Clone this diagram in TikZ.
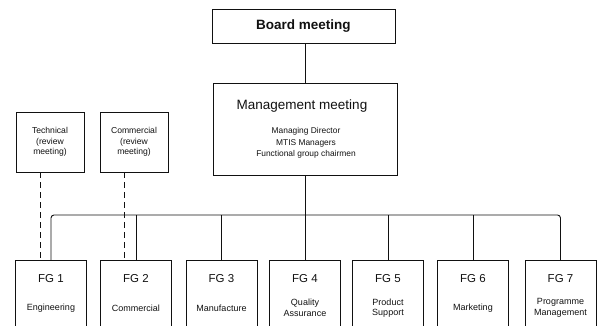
\documentclass[tikz,border=0pt]{standalone}
\usepackage{fontspec}
\setmainfont{Liberation Sans}
\usetikzlibrary{calc}
\definecolor{OrgInk}{HTML}{111111}
\tikzset{
  meetbox/.style={draw=OrgInk, line width=0.9pt, align=center, text=OrgInk, inner sep=0pt},
  reviewbox/.style={meetbox, minimum width=68pt, minimum height=60pt,
                    font=\fontsize{8.6}{10.5}\selectfont},
  groupbox/.style={draw=OrgInk, line width=0.9pt, minimum width=71pt,
                   minimum height=74pt, inner sep=0pt, anchor=north},
  grouptag/.style={font=\fontsize{11.5}{13}\selectfont, text=OrgInk},
  grouptext/.style={font=\fontsize{9}{10.5}\selectfont, align=center, text=OrgInk},
  link/.style={draw=OrgInk, line width=0.9pt},
  reviewlink/.style={link, dash pattern=on 6pt off 4pt},
}

\begin{document}
\begin{tikzpicture}[x=1pt, y=-1pt]
  \useasboundingbox (0,0) rectangle (603,326);
  \clip (0,0) rectangle (603,326);

  % Board and management meetings
  \node[meetbox, minimum width=183pt, minimum height=34pt,
        font=\bfseries\fontsize{13.5}{15}\selectfont] (board) at (303.5,26) {Board meeting};
  \node[meetbox, minimum width=184pt, minimum height=92pt] (mgmt) at (305,129) {};
  \node[font=\fontsize{13.5}{16}\selectfont, text=OrgInk] (mgmttitle) at (302,106) {Management meeting};
  \node[font=\fontsize{8.4}{11.5}\selectfont, align=center, text=OrgInk] (mgmtlist) at (306,143)
        {Managing Director\\MTIS Managers\\Functional group chairmen};

  % Review meetings
  \node[reviewbox] (techrev) at (50,142) {Technical\\(review\\meeting)};
  \node[reviewbox] (commrev) at (134,142) {Commercial\\(review\\meeting)};

  % Functional groups
  \foreach \i/\x/\job in {1/51/Engineering, 2/136/Commercial, 3/221.5/Manufacture,
                          4/305/{Quality\\Assurance}, 5/388/{Product\\Support},
                          6/473/Marketing, 7/560.5/{Programme\\Management}} {
    \node[groupbox] (fg\i) at (\x,260) {};
    \node[grouptag] (fgtag\i) at ($(fg\i.north)+(0,19)$) {FG \i};
    \node[grouptext] (fgjob\i) at ($(fg\i.north)+(0,48)$) {\job};
  }

  % Connectors
  \coordinate (bus) at (0,215);
  \draw[link] (mgmt.north) -- (mgmt.north |- board.south);
  \draw[link] (mgmt.south) -- (mgmt.south |- bus);
  \draw[link, rounded corners=3pt] (fg1.north) -- (fg1.north |- bus)
        -- (fg7.north |- bus) -- (fg7.north);
  \foreach \i in {2,...,6}
    \draw[link] (fg\i.north) -- (fg\i.north |- bus);
  \draw[reviewlink] ([xshift=-10pt]techrev.south) -- ([xshift=-10pt]techrev.south |- fg1.north);
  \draw[reviewlink] ([xshift=-10pt]commrev.south) -- ([xshift=-10pt]commrev.south |- fg2.north);
\end{tikzpicture}
\end{document}
